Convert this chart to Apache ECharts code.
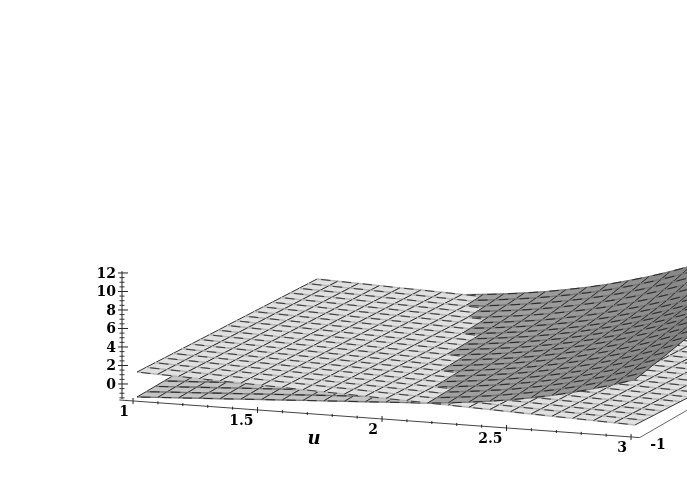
<!DOCTYPE html>
<html>
<head>
<meta charset="utf-8">
<style>
html, body { margin: 0; padding: 0; background: #fff; }
#chart { width: 687px; height: 491px; }
</style>
<script src="https://cdn.jsdelivr.net/npm/echarts@6/dist/echarts.min.js"></script>
</head>
<body>
<div id="chart"></div>
<script>
// grid of the two sheets
const uGrid = [1,1.083,1.167,1.25,1.333,1.417,1.5,1.583,1.667,1.75,1.833,1.917,2,2.083,2.167,2.25,2.333,2.417,2.5,2.583,2.667,2.75,2.833,2.917,3];
const vGrid = [-1,-0.9,-0.8,-0.7,-0.6,-0.5,-0.4,-0.3,-0.2,-0.1,0,0.1,0.2,0.3,0.4,0.5,0.6,0.7,0.8,0.9,1];

// light sheet, one row per v
const planeZ = [
  [1.51,1.43,1.36,1.28,1.20,1.13,1.05,0.98,0.90,0.82,0.75,0.67,0.59,0.52,0.44,0.37,0.29,0.21,0.14,0.06,-0.02,-0.09,-0.17,-0.24,-0.32],
  [1.45,1.37,1.30,1.22,1.14,1.07,0.99,0.92,0.84,0.76,0.69,0.61,0.53,0.46,0.38,0.31,0.23,0.15,0.08,0.00,-0.08,-0.15,-0.23,-0.30,-0.38],
  [1.39,1.31,1.24,1.16,1.08,1.01,0.93,0.86,0.78,0.70,0.63,0.55,0.47,0.40,0.32,0.25,0.17,0.09,0.02,-0.06,-0.14,-0.21,-0.29,-0.36,-0.44],
  [1.33,1.25,1.18,1.10,1.02,0.95,0.87,0.80,0.72,0.64,0.57,0.49,0.41,0.34,0.26,0.19,0.11,0.03,-0.04,-0.12,-0.20,-0.27,-0.35,-0.42,-0.50],
  [1.27,1.19,1.12,1.04,0.96,0.89,0.81,0.74,0.66,0.58,0.51,0.43,0.35,0.28,0.20,0.13,0.05,-0.03,-0.10,-0.18,-0.26,-0.33,-0.41,-0.48,-0.56],
  [1.21,1.13,1.06,0.98,0.90,0.83,0.75,0.68,0.60,0.52,0.45,0.37,0.29,0.22,0.14,0.07,-0.01,-0.09,-0.16,-0.24,-0.32,-0.39,-0.47,-0.54,-0.62],
  [1.15,1.07,1.00,0.92,0.84,0.77,0.69,0.62,0.54,0.46,0.39,0.31,0.23,0.16,0.08,0.01,-0.07,-0.15,-0.22,-0.30,-0.38,-0.45,-0.53,-0.60,-0.68],
  [1.09,1.01,0.94,0.86,0.78,0.71,0.63,0.56,0.48,0.40,0.33,0.25,0.17,0.10,0.02,-0.05,-0.13,-0.21,-0.28,-0.36,-0.44,-0.51,-0.59,-0.66,-0.74],
  [1.03,0.95,0.88,0.80,0.72,0.65,0.57,0.50,0.42,0.34,0.27,0.19,0.11,0.04,-0.04,-0.11,-0.19,-0.27,-0.34,-0.42,-0.50,-0.57,-0.65,-0.72,-0.80],
  [0.97,0.89,0.82,0.74,0.66,0.59,0.51,0.44,0.36,0.28,0.21,0.13,0.05,-0.02,-0.10,-0.17,-0.25,-0.33,-0.40,-0.48,-0.56,-0.63,-0.71,-0.78,-0.86],
  [0.92,0.84,0.77,0.69,0.61,0.54,0.46,0.39,0.31,0.23,0.16,0.08,0.00,-0.07,-0.15,-0.22,-0.30,-0.38,-0.45,-0.53,-0.61,-0.68,-0.76,-0.83,-0.91],
  [0.86,0.78,0.71,0.63,0.55,0.48,0.40,0.33,0.25,0.17,0.10,0.02,-0.06,-0.13,-0.21,-0.28,-0.36,-0.44,-0.51,-0.59,-0.67,-0.74,-0.82,-0.89,-0.97],
  [0.80,0.72,0.65,0.57,0.49,0.42,0.34,0.27,0.19,0.11,0.04,-0.04,-0.12,-0.19,-0.27,-0.34,-0.42,-0.50,-0.57,-0.65,-0.73,-0.80,-0.88,-0.95,-1.03],
  [0.74,0.66,0.59,0.51,0.43,0.36,0.28,0.21,0.13,0.05,-0.02,-0.10,-0.18,-0.25,-0.33,-0.40,-0.48,-0.56,-0.63,-0.71,-0.79,-0.86,-0.94,-1.01,-1.09],
  [0.68,0.60,0.53,0.45,0.37,0.30,0.22,0.15,0.07,-0.01,-0.08,-0.16,-0.24,-0.31,-0.39,-0.46,-0.54,-0.62,-0.69,-0.77,-0.85,-0.92,-1.00,-1.07,-1.15],
  [0.62,0.54,0.47,0.39,0.31,0.24,0.16,0.09,0.01,-0.07,-0.14,-0.22,-0.30,-0.37,-0.45,-0.52,-0.60,-0.68,-0.75,-0.83,-0.91,-0.98,-1.06,-1.13,-1.21],
  [0.56,0.48,0.41,0.33,0.25,0.18,0.10,0.03,-0.05,-0.13,-0.20,-0.28,-0.36,-0.43,-0.51,-0.58,-0.66,-0.74,-0.81,-0.89,-0.97,-1.04,-1.12,-1.19,-1.27],
  [0.50,0.42,0.35,0.27,0.19,0.12,0.04,-0.03,-0.11,-0.19,-0.26,-0.34,-0.42,-0.49,-0.57,-0.64,-0.72,-0.80,-0.87,-0.95,-1.03,-1.10,-1.18,-1.25,-1.33],
  [0.44,0.36,0.29,0.21,0.13,0.06,-0.02,-0.09,-0.17,-0.25,-0.32,-0.40,-0.48,-0.55,-0.63,-0.70,-0.78,-0.86,-0.93,-1.01,-1.09,-1.16,-1.24,-1.31,-1.39],
  [0.38,0.30,0.23,0.15,0.07,0.00,-0.08,-0.15,-0.23,-0.31,-0.38,-0.46,-0.54,-0.61,-0.69,-0.76,-0.84,-0.92,-0.99,-1.07,-1.15,-1.22,-1.30,-1.37,-1.45],
  [0.32,0.24,0.17,0.09,0.01,-0.06,-0.14,-0.21,-0.29,-0.37,-0.44,-0.52,-0.60,-0.67,-0.75,-0.82,-0.90,-0.98,-1.05,-1.13,-1.21,-1.28,-1.36,-1.43,-1.51]
];

// curved sheet, one row per v
const surfaceZ = [
  [-1.19,-1.07,-0.96,-0.84,-0.73,-0.61,-0.49,-0.38,-0.26,-0.15,-0.03,0.08,0.20,0.31,0.42,0.61,0.85,1.12,1.43,1.81,2.23,2.73,3.28,3.90,4.60],
  [-1.18,-1.06,-0.95,-0.83,-0.72,-0.60,-0.49,-0.37,-0.26,-0.14,-0.03,0.08,0.20,0.31,0.45,0.66,0.90,1.19,1.53,1.92,2.36,2.87,3.44,4.09,4.81],
  [-1.17,-1.06,-0.94,-0.83,-0.71,-0.60,-0.49,-0.37,-0.26,-0.14,-0.03,0.08,0.20,0.31,0.48,0.71,0.97,1.25,1.62,2.02,2.49,3.01,3.61,4.28,5.02],
  [-1.15,-1.04,-0.93,-0.81,-0.70,-0.59,-0.48,-0.36,-0.25,-0.14,-0.03,0.09,0.20,0.31,0.51,0.75,1.01,1.33,1.70,2.12,2.61,3.16,3.78,4.48,5.23],
  [-1.14,-1.03,-0.92,-0.81,-0.70,-0.58,-0.47,-0.36,-0.25,-0.14,-0.03,0.09,0.20,0.33,0.54,0.79,1.07,1.41,1.80,2.23,2.74,3.31,3.96,4.68,5.46],
  [-1.13,-1.02,-0.91,-0.80,-0.69,-0.57,-0.46,-0.35,-0.24,-0.13,-0.02,0.09,0.20,0.36,0.58,0.84,1.13,1.50,1.90,2.36,2.88,3.47,4.14,4.88,5.69],
  [-1.12,-1.01,-0.90,-0.79,-0.68,-0.56,-0.45,-0.34,-0.23,-0.12,-0.01,0.09,0.20,0.39,0.63,0.89,1.21,1.59,2.00,2.49,3.04,3.65,4.34,5.10,5.92],
  [-1.11,-1.00,-0.88,-0.78,-0.67,-0.56,-0.45,-0.34,-0.23,-0.12,-0.01,0.09,0.21,0.42,0.68,0.96,1.29,1.68,2.11,2.62,3.19,3.83,4.54,5.33,6.17],
  [-1.09,-0.98,-0.87,-0.77,-0.66,-0.55,-0.44,-0.33,-0.23,-0.12,-0.01,0.10,0.25,0.47,0.72,1.01,1.37,1.78,2.23,2.75,3.35,4.01,4.74,5.55,6.44],
  [-1.08,-0.98,-0.87,-0.76,-0.66,-0.55,-0.44,-0.33,-0.23,-0.12,-0.01,0.10,0.28,0.50,0.77,1.08,1.45,1.87,2.35,2.89,3.53,4.20,4.94,5.77,6.73],
  [-1.07,-0.97,-0.86,-0.75,-0.65,-0.54,-0.44,-0.33,-0.23,-0.12,-0.02,0.09,0.30,0.54,0.82,1.15,1.53,1.96,2.46,3.03,3.68,4.38,5.14,5.98,6.94],
  [-1.06,-0.96,-0.85,-0.74,-0.64,-0.54,-0.44,-0.34,-0.23,-0.13,-0.03,0.11,0.33,0.58,0.87,1.22,1.61,2.07,2.59,3.17,3.83,4.55,5.34,6.23,7.19],
  [-1.05,-0.95,-0.85,-0.74,-0.64,-0.54,-0.44,-0.34,-0.23,-0.13,-0.03,0.14,0.36,0.63,0.92,1.30,1.70,2.18,2.71,3.31,3.99,4.74,5.55,6.47,7.44],
  [-1.03,-0.93,-0.83,-0.73,-0.63,-0.54,-0.44,-0.34,-0.24,-0.14,-0.04,0.16,0.40,0.67,1.00,1.37,1.79,2.28,2.85,3.46,4.17,4.93,5.75,6.71,7.70],
  [-1.02,-0.92,-0.83,-0.73,-0.63,-0.54,-0.44,-0.34,-0.24,-0.14,-0.02,0.20,0.45,0.73,1.08,1.48,1.91,2.43,3.01,3.65,4.38,5.16,6.03,7.00,8.00],
  [-1.01,-0.91,-0.82,-0.72,-0.62,-0.53,-0.43,-0.33,-0.23,-0.14,0.02,0.25,0.51,0.80,1.18,1.59,2.05,2.59,3.19,3.85,4.61,5.42,6.33,7.31,8.32],
  [-1.00,-0.90,-0.80,-0.71,-0.61,-0.51,-0.41,-0.32,-0.22,-0.10,0.09,0.33,0.61,0.94,1.34,1.76,2.25,2.82,3.45,4.16,4.94,5.79,6.73,7.72,8.77],
  [-0.99,-0.89,-0.79,-0.69,-0.59,-0.49,-0.40,-0.30,-0.20,-0.05,0.17,0.42,0.72,1.08,1.49,1.94,2.47,3.07,3.73,4.46,5.27,6.16,7.13,8.15,9.22],
  [-0.97,-0.87,-0.77,-0.68,-0.58,-0.48,-0.38,-0.29,-0.18,0.01,0.25,0.53,0.85,1.22,1.65,2.13,2.69,3.32,4.02,4.78,5.62,6.55,7.53,8.59,9.66],
  [-0.96,-0.86,-0.76,-0.66,-0.56,-0.47,-0.37,-0.27,-0.13,0.09,0.34,0.63,0.98,1.37,1.83,2.34,2.93,3.59,4.31,5.11,5.99,6.96,7.96,9.04,10.12],
  [-0.95,-0.85,-0.75,-0.65,-0.55,-0.45,-0.35,-0.25,-0.06,0.17,0.43,0.74,1.12,1.53,2.02,2.57,3.18,3.87,4.62,5.45,6.39,7.37,8.40,9.49,10.57]
];

// axis ticks
const uMajor = [1,1.5,2,2.5,3];
const uMinor = [1.1,1.2,1.3,1.4,1.6,1.7,1.8,1.9,2.1,2.2,2.3,2.4,2.6,2.7,2.8,2.9];
const uLabels = ['1','1.5','2','2.5','3'];
const zMajor = [0,2,4,6,8,10,12];
const zMinor = [-1.5,-1,-0.5,0.5,1,1.5,2.5,3,3.5,4.5,5,5.5,6.5,7,7.5,8.5,9,9.5,10.5,11,11.5];
const zLabels = ['0','2','4','6','8','10','12'];
const vLabels = ['-1'];

const LABEL_FONT = 'bold 14px "DejaVu Serif", "Liberation Serif", serif';

// oblique view of (u,v,z), in the pixel scale of the hidden axes
function project(u, v, z) {
    return [
        137 + 249 * (u - 1) + 90 * (v + 1),
        386 + 18 * (u - 1) - 52 * (v + 1) - 9.25 * z
    ];
}

// one cell per grid square, lower sheet first so the upper one covers it
const lowerCells = [];
const upperCells = [];
for (let j = vGrid.length - 2; j >= 0; j--) {
    for (let i = 0; i < uGrid.length - 1; i++) {
        const p = planeZ[j][i] + planeZ[j][i + 1] + planeZ[j + 1][i] + planeZ[j + 1][i + 1];
        const s = surfaceZ[j][i] + surfaceZ[j][i + 1] + surfaceZ[j + 1][i] + surfaceZ[j + 1][i + 1];
        // small bias moves the jagged seam onto the one in the picture
        const planeOnTop = p + 0.5 > s;
        (planeOnTop ? lowerCells : upperCells).push([1, i, j]);
        (planeOnTop ? upperCells : lowerCells).push([0, i, j]);
    }
}
const cells = lowerCells.concat(upperCells);

function cellColor(sheet, i, j) {
    if (sheet === 0) return '#e0e0e0';
    const slope = (surfaceZ[j][i + 1] - surfaceZ[j][i]) * 12;
    if (slope < 2) return '#c4c4c4';
    const g = Math.round(Math.max(128, 160 - (slope - 3) * 4));
    return 'rgb(' + g + ',' + g + ',' + g + ')';
}

function renderCell(params, api) {
    const sheet = api.value(0), i = api.value(1), j = api.value(2);
    const table = sheet === 0 ? planeZ : surfaceZ;
    const pt = (a, b) => api.coord(project(uGrid[a], vGrid[b], table[b][a]));
    const p00 = pt(i, j), p10 = pt(i + 1, j), p11 = pt(i + 1, j + 1), p01 = pt(i, j + 1);
    const mix = (a, b, t) => [a[0] + (b[0] - a[0]) * t, a[1] + (b[1] - a[1]) * t];
    const seg = (a, b, stroke, width) => ({
        type: 'line', silent: true,
        shape: { x1: a[0], y1: a[1], x2: b[0], y2: b[1] },
        style: { stroke: stroke, lineWidth: width, fill: null }
    });
    const fill = cellColor(sheet, i, j);
    const band = sheet === 0 ? '#b8b8b8' : '#7a7a7a';
    const dash = sheet === 0 ? '#3a3a3a' : '#2a2a2a';
    return {
        type: 'group',
        children: [
            { type: 'polygon', silent: true, shape: { points: [p00, p10, p11, p01] }, style: { fill: fill, stroke: fill, lineWidth: 0.5 } },
            seg(p00, p10, band, 1.4),
            seg(p01, p11, band, 1.4),
            seg(mix(p00, p10, 0.2), mix(p00, p10, 0.65), dash, 1),
            seg(mix(p01, p11, 0.2), mix(p01, p11, 0.65), dash, 1),
            seg(p00, p01, '#333', 1),
            seg(p10, p11, '#333', 1)
        ]
    };
}

// axes are oblique, so they are drawn on the same scale as the sheets
const U_AXIS_V = -1.044, U_AXIS_Z = -1.37;
const Z_AXIS_U = 0.934, Z_AXIS_V = -0.984;

function renderFrame(params, api) {
    const c = (u, v, z) => api.coord(project(u, v, z));
    const line = (a, b, w, col) => ({
        type: 'line', silent: true,
        shape: { x1: a[0], y1: a[1], x2: b[0], y2: b[1] },
        style: { stroke: col || '#333', lineWidth: w, fill: null }
    });
    const text = (str, x, y, align, font) => ({
        type: 'text', silent: true,
        style: { text: str, x: x, y: y, align: align, verticalAlign: 'middle', font: font || LABEL_FONT, fill: '#000' }
    });
    const kids = [];
    // u axis
    kids.push(line(c(0.945, U_AXIS_V, U_AXIS_Z), c(3.035, U_AXIS_V, U_AXIS_Z), 1, '#444'));
    uMinor.forEach(u => {
        const p = c(u, U_AXIS_V, U_AXIS_Z);
        kids.push(line([p[0], p[1] - 1.5], [p[0], p[1] + 1.5], 1, '#222'));
    });
    uMajor.forEach((u, k) => {
        const p = c(u, U_AXIS_V, U_AXIS_Z);
        kids.push(line([p[0], p[1] - 3], [p[0], p[1] + 3], 1, '#222'));
        kids.push(text(uLabels[k], p[0] - 4, p[1] + 11, 'right'));
    });
    // z axis
    kids.push(line(c(Z_AXIS_U, Z_AXIS_V, -1.62), c(Z_AXIS_U, Z_AXIS_V, 12.2), 1, '#222'));
    zMinor.forEach(z => {
        const p = c(Z_AXIS_U, Z_AXIS_V, z);
        kids.push(line([p[0] - 2.5, p[1]], [p[0] + 2.5, p[1]], 1, '#333'));
    });
    zMajor.forEach((z, k) => {
        const p = c(Z_AXIS_U, Z_AXIS_V, z);
        kids.push(line([p[0] - 4, p[1]], [p[0] + 6, p[1]], 1, '#222'));
        kids.push(text(zLabels[k], p[0] - 6, p[1] + 1, 'right'));
    });
    // v axis, runs out of the window
    const vStart = c(3.035, U_AXIS_V, U_AXIS_Z);
    kids.push(line(vStart, c(3.035, 1, U_AXIS_Z), 1, '#666'));
    kids.push(text(vLabels[0], vStart[0] + 26, vStart[1] + 8, 'right'));
    // u axis title
    kids.push(text('u', 314, 439, 'center', 'italic bold 18px "DejaVu Serif", "Liberation Serif", serif'));
    return { type: 'group', children: kids };
}

const chart = echarts.init(document.getElementById('chart'), null, { renderer: 'canvas' });
chart.setOption({
    animation: false,
    backgroundColor: '#fff',
    grid: { left: 0, right: 0, top: 0, bottom: 0 },
    xAxis: { type: 'value', min: 0, max: 687, show: false },
    yAxis: { type: 'value', min: 0, max: 491, inverse: true, show: false },
    series: [
        {
            type: 'custom',
            coordinateSystem: 'cartesian2d',
            renderItem: renderCell,
            data: cells,
            encode: { x: [], y: [] },
            silent: true
        },
        {
            type: 'custom',
            coordinateSystem: 'cartesian2d',
            renderItem: renderFrame,
            data: [[0]],
            encode: { x: [], y: [] },
            silent: true,
            z: 5
        }
    ]
});
</script>
</body>
</html>
